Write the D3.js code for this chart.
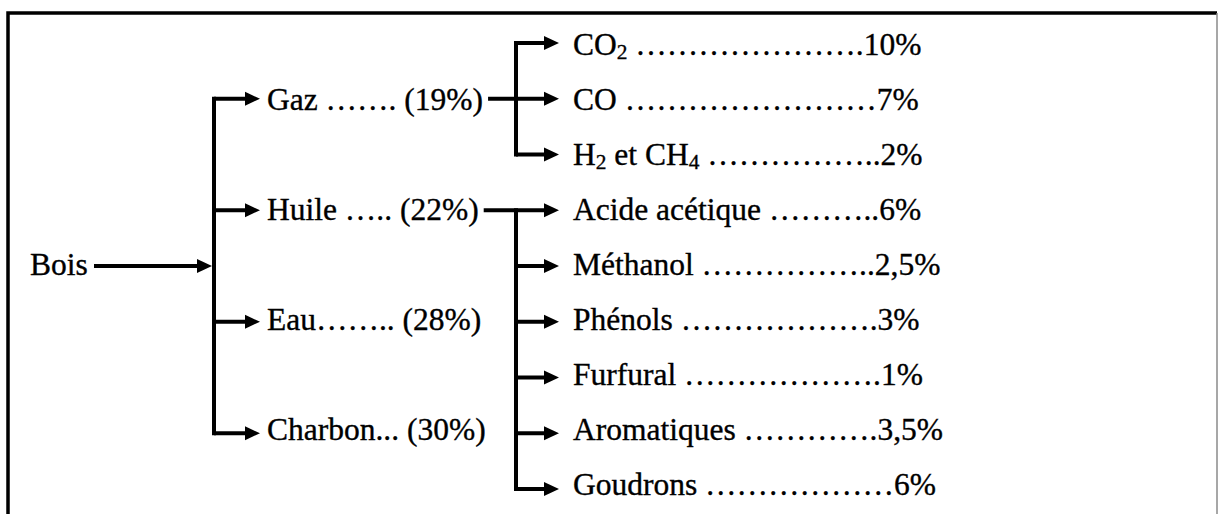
<!DOCTYPE html>
<html>
<head>
<meta charset="utf-8">
<script src="https://cdn.jsdelivr.net/npm/d3@7"></script>
<style>
  html, body { margin: 0; padding: 0; background: #fff; }
  svg { display: block; }
</style>
</head>
<body>
<div id="chart"></div>
<script>
// dotted leaders as typed in the original document
var dots = function(n, tail) { return "\u2026".repeat(n) + (tail || ""); };

var rootName = "Bois";

var fractionNames = ["Gaz", "Huile", "Eau", "Charbon"];
var fractionLeaders = [" " + dots(2, ".") + " ", " " + dots(1, "..") + " ", dots(2, "..") + " ", "... "];
var fractionValues = [19, 22, 28, 30];

var gasNames = ["CO_2", "CO", "H_2 et CH_4"];
var gasLeaders = [" " + dots(7, "."), " " + dots(8), " " + dots(5, "..")];
var gasValues = [10, 7, 2];

var oilNames = ["Acide acétique", "Méthanol", "Phénols", "Furfural", "Aromatiques", "Goudrons"];
var oilLeaders = [" " + dots(3, ".."), " " + dots(5, ".."), " " + dots(6, "."), " " + dots(6, "."), " " + dots(4, "."), " " + dots(6)];
var oilValues = [6, 2.5, 3, 1, 3.5, 6];

// set the dimensions
var width = 1219, height = 514;
var fontSize = 31.5;
var stroke = 4;

var fr = d3.formatLocale({decimal: ",", thousands: " ", grouping: [3], currency: ["", " €"]});
var fmt = fr.format("");

var svg = d3.select("#chart").append("svg")
  .attr("width", width)
  .attr("height", height)
  .attr("font-family", "Liberation Serif, Times New Roman, serif")
  .attr("font-size", fontSize);

// rows : 3 gas products + 6 oil products
var nRows = gasNames.length + oilNames.length;
var rowText = d3.scaleLinear().domain([0, nRows - 1]).range([55, 495]);
var rowArrow = d3.scaleLinear().domain([0, nRows - 1]).range([43, 489]);

// fractions sit on every other row, from row 1 to row 7
var fracRow = d3.scalePoint().domain(fractionNames).range([1, 7]);
var rootRow = (fracRow(fractionNames[0]) + fracRow(fractionNames[fractionNames.length - 1])) / 2;

// columns
var col = {
  root: 30, rootLine: 94, trunk: 214, fracTip: 260, frac: 267,
  branch: 516, prodTip: 559, prod: 573
};

// page border (top & left thick, right thin)
svg.append("path")
  .attr("d", "M8," + (height + 5) + "V13H1217")
  .attr("fill", "none")
  .attr("stroke", "#000")
  .attr("stroke-width", 3.5);
svg.append("line")
  .attr("x1", 1217).attr("x2", 1217)
  .attr("y1", 13).attr("y2", height)
  .attr("stroke", "#8a8a8a")
  .attr("stroke-width", 1.5);

var lines = svg.append("g")
  .attr("stroke", "#000")
  .attr("stroke-width", stroke)
  .attr("fill", "#000");

function arrow(x1, x2, y) {
  lines.append("line")
    .attr("x1", x1).attr("x2", x2 - 8)
    .attr("y1", y).attr("y2", y);
  lines.append("path")
    .attr("stroke", "none")
    .attr("d", "M" + (x2 - 15) + "," + (y - 7) + "L" + x2 + "," + y + "L" + (x2 - 15) + "," + (y + 7) + "Z");
}

function vline(x, y1, y2) {
  lines.append("line")
    .attr("x1", x).attr("x2", x)
    .attr("y1", y1).attr("y2", y2)
    .attr("stroke-linecap", "square");
}

// text with _n subscripts
function richText(sel, str) {
  var parts = str.split(/(_\d)/);
  var shifted = false;
  parts.forEach(function(p) {
    if (!p) return;
    if (p[0] === "_") {
      sel.append("tspan").attr("font-size", "0.68em").attr("dy", 4).text(p.slice(1));
      shifted = true;
    } else {
      sel.append("tspan").attr("dy", shifted ? -4 : 0).text(p);
      shifted = false;
    }
  });
}

// slight stroke: the scanned original has heavier glyphs
var texts = svg.append("g")
  .attr("fill", "#000")
  .attr("stroke", "#000")
  .attr("stroke-width", 0.35);

// root
texts.append("text")
  .attr("x", col.root)
  .attr("y", rowText(rootRow))
  .text(rootName);
arrow(col.rootLine, col.trunk - 2, rowArrow(rootRow));

// trunk + fraction arrows
vline(col.trunk, rowArrow(fracRow(fractionNames[0])), rowArrow(fracRow(fractionNames[fractionNames.length - 1])));

var fracText = {};
fractionNames.forEach(function(name, i) {
  var r = fracRow(name);
  arrow(col.trunk, col.fracTip, rowArrow(r));
  fracText[name] = texts.append("text")
    .attr("x", col.frac)
    .attr("y", rowText(r))
    .text(name + fractionLeaders[i] + "(" + fmt(fractionValues[i]) + "%)");
});

// products for a fraction
function products(parent, names, leaders, values, firstRow, fromRow) {
  var lastRow = firstRow + names.length - 1;
  var endX = col.frac + fracText[parent].node().getComputedTextLength() + 5;
  lines.append("line")
    .attr("x1", endX).attr("x2", col.branch)
    .attr("y1", rowArrow(fromRow)).attr("y2", rowArrow(fromRow));
  vline(col.branch, rowArrow(firstRow), rowArrow(lastRow));
  names.forEach(function(name, i) {
    var r = firstRow + i;
    arrow(col.branch, col.prodTip, rowArrow(r));
    var t = texts.append("text")
      .attr("x", col.prod)
      .attr("y", rowText(r));
    richText(t, name + leaders[i] + fmt(values[i]) + "%");
  });
}

products("Gaz", gasNames, gasLeaders, gasValues, 0, fracRow("Gaz"));
products("Huile", oilNames, oilLeaders, oilValues, gasNames.length, fracRow("Huile"));
</script>
</body>
</html>
